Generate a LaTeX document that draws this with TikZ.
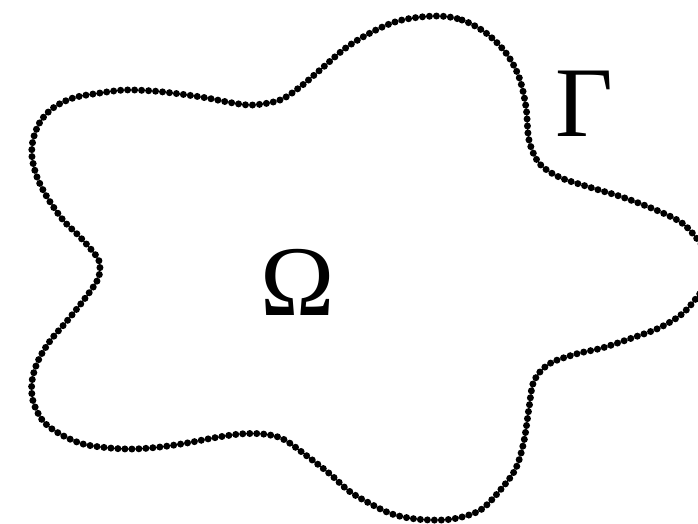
\documentclass[tikz,border=0pt]{standalone}
\usepackage{fontspec}
\setmainfont{Liberation Serif}
\begin{document}
\begin{tikzpicture}[x=1pt,y=-1pt,
  boundary/.style={line width=7pt, line cap=round, dash pattern=on 0pt off 7pt},
  biglabel/.style={inner sep=0pt, font=\fontsize{100}{100}\selectfont}]
\useasboundingbox (0,0) rectangle (698,523);
\draw[boundary] plot[smooth cycle, tension=0.55] coordinates {
(436,16) (462,20) (486,33) (506,53) (519,77) (526,107) (529,140) (539,163)
(559,177) (589,187) (622,197) (656,210) (682,223) (698,240) (708,255) (712,268)
(708,282) (698,296) (682,314) (659,328) (632,338) (602,348) (576,354) (549,364)
(534,381) (529,408) (524,441) (516,468) (502,488) (482,509) (462,517) (442,520)
(416,519) (392,514) (369,503) (349,491) (330,474) (307,456) (283,439) (263,434)
(240,434) (213,438) (187,443) (160,447) (133,449) (110,448) (83,444) (60,434)
(43,421) (33,401) (32,381) (38,361) (50,341) (67,321) (83,301) (97,281)
(100,268) (97,257) (80,237) (63,220) (47,197) (37,177) (32,157) (33,140)
(40,122) (53,108) (73,98) (100,93) (125,90) (153,91) (180,94) (207,98)
(233,103) (253,105) (280,100) (300,87) (320,70) (347,47) (376,30) (402,20)};
\node[biglabel] (omega) at (297.5,282.5) {Ω};
\node[biglabel] (gamma) at (584.5,103.5) {Γ};
\end{tikzpicture}
\end{document}
